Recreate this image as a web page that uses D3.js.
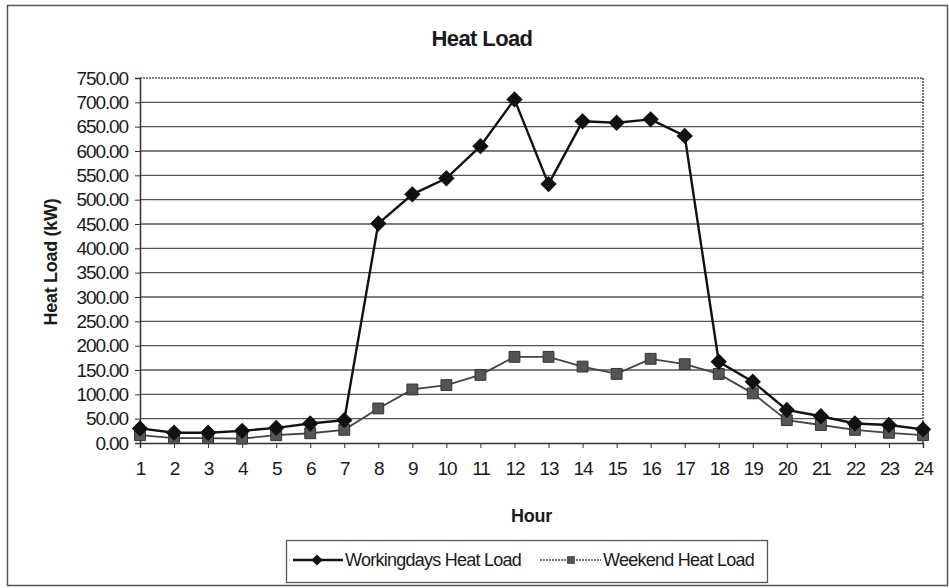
<!DOCTYPE html>
<html>
<head>
	<title>Heat Load</title>
	<style type="text/css">
		body {
			margin: 0;
			background: #fff;
		}
		svg text {
			font-family: "Liberation Sans", Arial, sans-serif;
			fill: #1a1a1a;
		}
		.axis path, .axis line {
			stroke: #333;
		}
		.grid line {
			stroke: #555;
			stroke-width: 1.3;
		}
	</style>
	<script src="https://d3js.org/d3.v7.min.js"></script>
</head>
<body>
<div class="container"></div>
<script type="text/javascript">
	var hours = ["1","2","3","4","5","6","7","8","9","10","11","12","13","14","15","16","17","18","19","20","21","22","23","24"];
	var workingdays = [30,21,21,25,31,40,47,451,511,544,610,706,532,661,658,665,631,167,126,68,55,40,37,28];
	var weekend = [16,10,10,9,16,20,27,71,110,119,140,177,177,157,142,173,162,142,102,47,37,27,21,16];
	var yTicks = [0,50,100,150,200,250,300,350,400,450,500,550,600,650,700,750];
	var seriesNames = ["Workingdays Heat Load", "Weekend Heat Load"];

	var svg = d3.select(".container").append("svg")
		.attr("width", 949)
		.attr("height", 588);

	var margin = {top: 78, right: 26, bottom: 145, left: 140},
		width = 949 - margin.left - margin.right,
		height = 588 - margin.top - margin.bottom;

	// chart frame
	svg.append("rect")
		.attr("x", 7.5).attr("y", 5.5)
		.attr("width", 940).attr("height", 580)
		.attr("fill", "none")
		.attr("stroke", "#555")
		.attr("stroke-width", 1.5);

	var x = d3.scalePoint().domain(hours).range([0, width]);
	var y = d3.scaleLinear().domain([0, 750]).range([height, 0]);

	var g = svg.append("g")
		.attr("transform", "translate(" + margin.left + "," + margin.top + ")");

	// gridlines
	g.append("g")
		.attr("class", "grid")
		.selectAll("line")
		.data(yTicks.filter(function(d) { return d > 0 && d < 750; }))
		.enter().append("line")
			.attr("x1", 0).attr("x2", width)
			.attr("y1", function(d) { return y(d); })
			.attr("y2", function(d) { return y(d); });

	// plot area border (dotted top/right)
	g.append("path")
		.attr("d", "M0," + y(750) + "H" + width + "V" + height)
		.attr("fill", "none")
		.attr("stroke", "#555")
		.attr("stroke-width", 1.6)
		.attr("stroke-dasharray", "2,1");

	var yAxis = g.append("g")
		.attr("class", "axis")
		.call(d3.axisLeft(y).tickValues(yTicks).tickSize(5).tickPadding(7)
			.tickFormat(d3.format(".2f")));
	yAxis.select(".domain").attr("stroke-width", 1.5);
	yAxis.selectAll("text")
		.style("font-size", "19px")
		.style("letter-spacing", "-1.1px");

	var xAxis = g.append("g")
		.attr("class", "axis")
		.attr("transform", "translate(0," + height + ")")
		.call(d3.axisBottom(x).tickSize(5).tickPadding(14));
	xAxis.select(".domain").attr("stroke-width", 1.5);
	xAxis.selectAll("text")
		.style("font-size", "19px")
		.style("letter-spacing", "-1.1px");

	// titles
	svg.append("text")
		.attr("x", 482).attr("y", 46)
		.attr("text-anchor", "middle")
		.style("font-size", "22px")
		.style("font-weight", "bold")
		.style("letter-spacing", "-0.6px")
		.text("Heat Load");

	svg.append("text")
		.attr("x", margin.left + width / 2).attr("y", 522)
		.attr("text-anchor", "middle")
		.style("font-size", "18px")
		.style("font-weight", "bold")
		.style("letter-spacing", "-0.3px")
		.text("Hour");

	svg.append("text")
		.attr("transform", "translate(57,262) rotate(-90)")
		.attr("text-anchor", "middle")
		.style("font-size", "18px")
		.style("font-weight", "bold")
		.style("letter-spacing", "-0.3px")
		.text("Heat Load (kW)");

	var line = d3.line()
		.x(function(d, i) { return x(hours[i]); })
		.y(function(d) { return y(d); });

	var diamond = d3.symbol().type(d3.symbolDiamond2).size(170);
	var square = d3.symbol().type(d3.symbolSquare2).size(150);

	// weekend series
	g.append("path")
		.datum(weekend)
		.attr("fill", "none")
		.attr("stroke", "#444")
		.attr("stroke-width", 1.8)
		.attr("d", line);

	g.selectAll(".sq")
		.data(weekend)
		.enter().append("path")
			.attr("class", "sq")
			.attr("transform", function(d, i) { return "translate(" + x(hours[i]) + "," + y(d) + ")"; })
			.attr("d", square)
			.attr("fill", "#555")
			.attr("stroke", "#333")
			.attr("stroke-width", 1);

	// workingdays series
	g.append("path")
		.datum(workingdays)
		.attr("fill", "none")
		.attr("stroke", "#111")
		.attr("stroke-width", 2.4)
		.attr("d", line);

	g.selectAll(".dm")
		.data(workingdays)
		.enter().append("path")
			.attr("class", "dm")
			.attr("transform", function(d, i) { return "translate(" + x(hours[i]) + "," + y(d) + ")"; })
			.attr("d", diamond)
			.attr("fill", "#111");

	// legend
	var legend = svg.append("g");
	legend.append("rect")
		.attr("x", 286.5).attr("y", 540.5)
		.attr("width", 481).attr("height", 42)
		.attr("fill", "none")
		.attr("stroke", "#555")
		.attr("stroke-width", 1.3);

	legend.append("line")
		.attr("x1", 293).attr("x2", 343).attr("y1", 560).attr("y2", 560)
		.attr("stroke", "#111").attr("stroke-width", 2.4);
	legend.append("path")
		.attr("transform", "translate(317,560)")
		.attr("d", d3.symbol().type(d3.symbolDiamond2).size(80))
		.attr("fill", "#111");
	legend.append("text")
		.attr("x", 345).attr("y", 566)
		.style("font-size", "18px")
		.style("letter-spacing", "-0.75px")
		.text(seriesNames[0]);

	legend.append("line")
		.attr("x1", 540).attr("x2", 601).attr("y1", 560).attr("y2", 560)
		.attr("stroke", "#444").attr("stroke-width", 1.4)
		.attr("stroke-dasharray", "2,1");
	legend.append("path")
		.attr("transform", "translate(571,560)")
		.attr("d", d3.symbol().type(d3.symbolSquare2).size(80))
		.attr("fill", "#555");
	legend.append("text")
		.attr("x", 603).attr("y", 566)
		.style("font-size", "18px")
		.style("letter-spacing", "-0.75px")
		.text(seriesNames[1]);
</script>
</body>
</html>
